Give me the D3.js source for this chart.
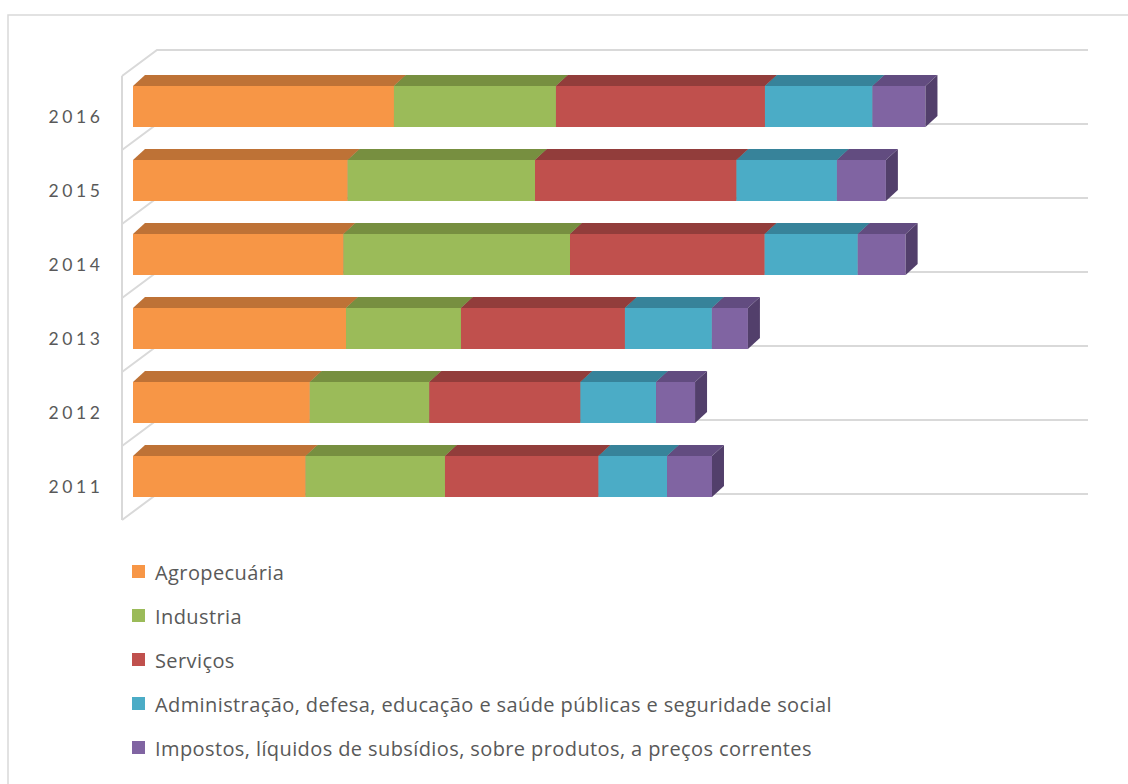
<!DOCTYPE html>
<html>
<head>
<meta charset="utf-8">
<script src="https://cdn.jsdelivr.net/npm/d3@7"></script>
<style>
  html, body { margin: 0; padding: 0; background: #fff; }
  svg { display: block; }
</style>
</head>
<body>
<svg id="chart" width="1128" height="784"></svg>
<script>
// Categories (top to bottom) and stacked series values
const years = ["2016", "2015", "2014", "2013", "2012", "2011"];
const seriesNames = [
  "Agropecuária",
  "Industria",
  "Serviços",
  "Administração, defesa, educação e saúde públicas e seguridade social",
  "Impostos, líquidos de subsídios, sobre produtos, a preços correntes"
];
const agropecuaria = [2803, 2306, 2261, 2288, 1899, 1854];
const industria    = [1740, 2012, 2433, 1235, 1284, 1497];
const servicos     = [2245, 2164, 2091, 1761, 1623, 1649];
const administracao = [1155, 1079, 1000, 934, 812, 736];
const impostos     = [569, 526, 514, 387, 419, 483];
const seriesValues = [agropecuaria, industria, servicos, administracao, impostos];
const valueMax = 10000;

const frontColors = ["#F79646", "#9BBB59", "#C0504D", "#4BACC6", "#8064A2"];
const topColors   = ["#BE7236", "#778F40", "#923D3B", "#37839A", "#624C80"];
const sideColors  = ["#A55E2A", "#617634", "#7A3230", "#2E6E81", "#523F6B"];

const svg = d3.select("#chart");
const grid = "#d9d9d9";

// Outer chart border
svg.append("rect")
  .attr("x", 8).attr("y", 15).attr("width", 1130).attr("height", 790)
  .attr("fill", "none").attr("stroke", grid).attr("stroke-width", 1.5);

// 3D frame geometry: front-left edge and wall depth
const frontX = 122, depthX = 35, depthY = -26;
const backRight = 1088;

const y = d3.scaleBand().domain(years).range([76, 520]).paddingInner(0).paddingOuter(0);
const x = d3.scaleLinear().domain([0, valueMax]).range([133, 1064]);

// Wall / floor lines
const wall = svg.append("g").attr("stroke", grid).attr("stroke-width", 2).attr("fill", "none");
const bounds = years.map(d => y(d)).concat([y.range()[1]]);
wall.append("line")
  .attr("x1", frontX).attr("y1", bounds[0])
  .attr("x2", frontX).attr("y2", bounds[bounds.length - 1]);
bounds.forEach(b => {
  // diagonal on the side wall, then horizontal gridline on the back wall
  wall.append("path")
    .attr("d", `M${frontX},${b} L${frontX + depthX},${b + depthY} L${backRight},${b + depthY}`);
});

// Bars: front face, top face, right side
const barDX = 12, barDY = -11, barOffset = 10, barH = 41;
const stacked = years.map((yr, i) => {
  let acc = 0;
  return seriesValues.map((vals, s) => {
    const v0 = acc; acc += vals[i];
    return { year: yr, s, v0, v1: acc };
  });
});

const bars = svg.append("g");
stacked.forEach(row => {
  row.forEach(seg => {
    const x0 = x(seg.v0), x1 = x(seg.v1);
    const t = y(seg.year) + barOffset, b = t + barH;
    const g = bars.append("g");
    g.append("rect")
      .attr("x", x0).attr("y", t).attr("width", x1 - x0).attr("height", barH)
      .attr("fill", frontColors[seg.s]);
    g.append("path")
      .attr("d", `M${x0},${t} L${x0 + barDX},${t + barDY} L${x1 + barDX},${t + barDY} L${x1},${t} Z`)
      .attr("fill", topColors[seg.s]);
    g.append("path")
      .attr("d", `M${x1},${t} L${x1 + barDX},${t + barDY} L${x1 + barDX},${b + barDY} L${x1},${b} Z`)
      .attr("fill", sideColors[seg.s]);
  });
});

// Category labels
const labelSpacing = 3.6;
svg.append("g").selectAll("text").data(years).join("text")
  .attr("x", 100 + labelSpacing).attr("y", d => y(d) + 40)
  .attr("text-anchor", "end").attr("dominant-baseline", "central")
  .attr("font-family", "Lato, 'Open Sans', sans-serif").attr("font-size", 17.5)
  .attr("letter-spacing", labelSpacing)
  .attr("fill", "#595959")
  .text(d => d);

// Legend
const legend = svg.append("g").attr("transform", "translate(132,572)");
const item = legend.selectAll("g").data(seriesNames).join("g")
  .attr("transform", (d, i) => `translate(0,${i * 44})`);
item.append("rect")
  .attr("x", 0).attr("y", -7).attr("width", 13).attr("height", 13)
  .attr("fill", (d, i) => frontColors[i]);
item.append("text")
  .attr("x", 23).attr("y", 0).attr("dominant-baseline", "central")
  .attr("font-family", "'Open Sans', Lato, sans-serif").attr("font-size", 20)
  .attr("letter-spacing", 0.4)
  .attr("fill", "#595959")
  .text(d => d);
</script>
</body>
</html>
